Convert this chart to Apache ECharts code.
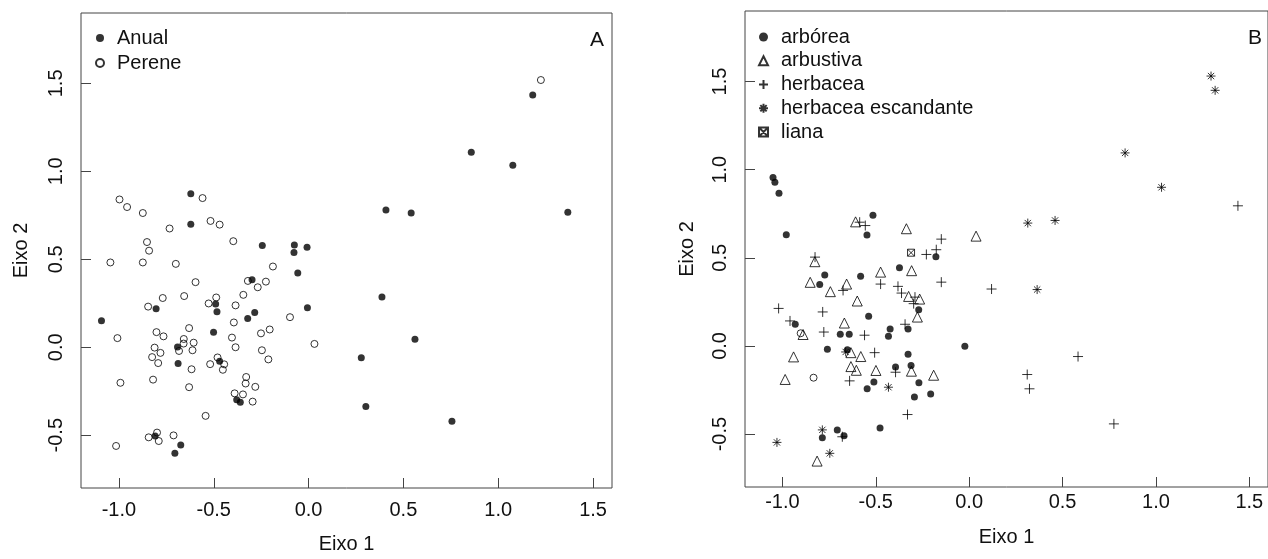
<!DOCTYPE html>
<html>
<head>
<meta charset="utf-8">
<script src="https://cdn.jsdelivr.net/npm/echarts@6/dist/echarts.min.js"></script>
<style>
  html, body { margin: 0; padding: 0; background: #fff; }
  #chart-container { width: 1268px; height: 559px; }
</style>
</head>
<body>
<div id="chart-container"></div>
<script>
// tick values shared by both panels
var tickValues = [-1.0, -0.5, 0.0, 0.5, 1.0, 1.5];

// panel A: life cycle
var anual = [
  [-0.621, 0.872], [-0.621, 0.699], [-0.244, 0.579], [-0.075, 0.581], [-0.008, 0.568],
  [-0.077, 0.538], [-0.057, 0.422], [-0.298, 0.384], [-0.804, 0.219], [-0.490, 0.246],
  [-0.483, 0.202], [-0.284, 0.197], [-0.321, 0.163], [-0.006, 0.225], [-1.092, 0.150],
  [-0.501, 0.086], [-0.691, 0.002], [-0.688, -0.092], [-0.469, -0.080], [-0.379, -0.298],
  [-0.360, -0.313], [-0.809, -0.504], [-0.674, -0.555], [-0.705, -0.602], [0.278, -0.060],
  [1.182, 1.434], [0.858, 1.108], [1.077, 1.035], [0.408, 0.780], [0.541, 0.763],
  [1.367, 0.767], [0.387, 0.285], [0.561, 0.045], [0.302, -0.337], [0.756, -0.420]
];
var perene = [
  [-0.559, 0.848], [-0.997, 0.840], [-0.957, 0.797], [-0.874, 0.763], [-0.517, 0.718],
  [-0.469, 0.697], [-0.733, 0.675], [-0.852, 0.598], [-0.841, 0.549], [-0.397, 0.603],
  [-1.045, 0.482], [-0.874, 0.482], [-0.700, 0.474], [-0.188, 0.459], [-0.596, 0.370],
  [-0.320, 0.377], [-0.225, 0.373], [-0.268, 0.341], [-0.769, 0.280], [-0.656, 0.291],
  [-0.344, 0.298], [-0.846, 0.231], [-0.527, 0.249], [-0.487, 0.283], [-0.385, 0.238],
  [-0.098, 0.171], [-0.394, 0.141], [-0.630, 0.109], [-0.205, 0.101], [-0.251, 0.079],
  [-1.008, 0.052], [-0.802, 0.086], [-0.765, 0.062], [-0.658, 0.047], [-0.659, 0.021],
  [-0.606, 0.026], [-0.404, 0.055], [0.031, 0.019], [-0.812, -0.002], [-0.385, 0.000],
  [-0.781, -0.032], [-0.683, -0.021], [-0.612, -0.017], [-0.246, -0.017], [-0.825, -0.056],
  [-0.793, -0.090], [-0.480, -0.058], [-0.519, -0.096], [-0.445, -0.097], [-0.452, -0.128],
  [-0.212, -0.069], [-0.617, -0.125], [-0.992, -0.202], [-0.820, -0.184], [-0.630, -0.227],
  [-0.329, -0.169], [-0.332, -0.206], [-0.281, -0.225], [-0.390, -0.262], [-0.346, -0.268],
  [-0.295, -0.309], [-0.543, -0.390], [-0.799, -0.485], [-0.843, -0.512], [-0.790, -0.533],
  [-0.712, -0.501], [-1.015, -0.561], [1.225, 1.519]
];

// panel B: growth form
var arborea = [
  [-1.050, 0.955], [-1.040, 0.929], [-1.018, 0.866], [-0.979, 0.631], [-0.515, 0.742],
  [-0.547, 0.629], [-0.178, 0.506], [-0.373, 0.444], [-0.581, 0.396], [-0.773, 0.402],
  [-0.800, 0.348], [-0.270, 0.206], [-0.538, 0.168], [-0.931, 0.123], [-0.423, 0.096],
  [-0.327, 0.096], [-0.690, 0.066], [-0.642, 0.066], [-0.432, 0.055], [-0.023, -0.002],
  [-0.759, -0.019], [-0.652, -0.021], [-0.327, -0.047], [-0.394, -0.119], [-0.311, -0.111],
  [-0.510, -0.204], [-0.546, -0.243], [-0.269, -0.209], [-0.293, -0.289], [-0.206, -0.272],
  [-0.477, -0.466], [-0.786, -0.521], [-0.706, -0.477], [-0.670, -0.510]
];
var arbustiva = [
  [-0.608, 0.704], [-0.336, 0.665], [0.037, 0.623], [-0.826, 0.478], [-0.308, 0.427],
  [-0.474, 0.419], [-0.851, 0.361], [-0.656, 0.351], [-0.743, 0.308], [-0.324, 0.281],
  [-0.265, 0.266], [-0.277, 0.164], [-0.599, 0.255], [-0.668, 0.130], [-0.889, 0.065],
  [-0.633, -0.038], [-0.580, -0.060], [-0.940, -0.062], [-0.633, -0.117], [-0.604, -0.138],
  [-0.499, -0.139], [-0.309, -0.143], [-0.190, -0.166], [-0.985, -0.190], [-0.814, -0.653]
];
var herbacea = [
  [-0.586, 0.702], [-0.556, 0.683], [-0.149, 0.606], [-0.229, 0.519], [-0.176, 0.546],
  [-0.825, 0.504], [-0.474, 0.351], [-0.381, 0.338], [-0.149, 0.362], [0.120, 0.323],
  [-0.675, 0.315], [-0.362, 0.300], [-0.290, 0.277], [-0.297, 0.240], [-1.020, 0.213],
  [-0.784, 0.193], [-0.959, 0.142], [-0.343, 0.123], [-0.778, 0.079], [-0.560, 0.061],
  [-0.506, -0.038], [-0.394, -0.149], [-0.640, -0.198], [-0.330, -0.389], [-0.679, -0.515],
  [1.439, 0.795], [0.583, -0.060], [0.311, -0.162], [0.323, -0.243], [0.775, -0.442]
];
var escandante = [
  [-0.661, -0.034], [-0.432, -0.234], [-0.786, -0.476], [-1.029, -0.547], [-0.746, -0.609],
  [1.295, 1.531], [1.317, 1.450], [0.835, 1.095], [1.030, 0.900], [0.314, 0.697],
  [0.460, 0.712], [0.364, 0.320]
];
var liana = [[-0.311, 0.529]];
var semClasse = [[-0.902, 0.072], [-0.833, -0.180]];

var FONT = 'Liberation Sans, Arial, sans-serif';
var plusPath = 'path://M5,0L5,10M0,5L10,5';
var starPath = 'path://M5,0L5,10M0,5L10,5M1.5,1.5L8.5,8.5M8.5,1.5L1.5,8.5';
var boxXPath = 'path://M0,0L10,0L10,10L0,10ZM0,0L10,10M10,0L0,10';

var dom = document.getElementById('chart-container');
var myChart = echarts.init(dom, null, { renderer: 'canvas' });

function xAxisFor(idx, labelMargin, nameGap) {
  return {
    type: 'value', gridIndex: idx, min: -1.2, max: 1.6,
    name: 'Eixo 1', nameLocation: 'middle', nameGap: nameGap,
    nameTextStyle: { fontFamily: FONT, fontSize: 20, color: '#111' },
    axisLine: { show: false, onZero: false },
    splitLine: { show: false },
    axisTick: { show: true, inside: true, length: 10, customValues: tickValues,
      lineStyle: { color: '#444' } },
    axisLabel: { customValues: tickValues, margin: labelMargin,
      fontFamily: FONT, fontSize: 20, color: '#111',
      formatter: function (v) { return v.toFixed(1); } }
  };
}
function yAxisFor(idx, nameGap) {
  return {
    type: 'value', gridIndex: idx, min: -0.8, max: 1.9,
    name: 'Eixo 2', nameLocation: 'middle', nameGap: nameGap,
    nameTextStyle: { fontFamily: FONT, fontSize: 20, color: '#111' },
    axisLine: { show: false, onZero: false },
    splitLine: { show: false },
    axisTick: { show: true, inside: true, length: 10, customValues: tickValues,
      lineStyle: { color: '#444' } },
    axisLabel: { customValues: tickValues, margin: 15, rotate: 90,
      fontFamily: FONT, fontSize: 20, color: '#111',
      formatter: function (v) { return v.toFixed(1); } }
  };
}
function openStyle() {
  return { color: 'rgba(0,0,0,0)', borderColor: '#000', borderWidth: 1 };
}

var option = {
  animation: false,
  grid: [
    { left: 81, top: 13, width: 531, height: 480, show: true,
      borderColor: '#444', borderWidth: 1, backgroundColor: 'transparent' },
    { left: 745, top: 11, width: 525, height: 476, show: true,
      borderColor: '#444', borderWidth: 1, backgroundColor: 'transparent' }
  ],
  xAxis: [xAxisFor(0, 12, 46), xAxisFor(1, 5, 40)],
  yAxis: [yAxisFor(0, 50), yAxisFor(1, 48)],
  legend: [
    { data: ['Anual', 'Perene'], orient: 'vertical', left: 90, top: 23,
      itemWidth: 8, itemHeight: 8, itemGap: 5, selectedMode: false,
      textStyle: { fontFamily: FONT, fontSize: 20, lineHeight: 20, color: '#111', padding: [0, 0, 0, 8] } },
    { data: ['arbórea', 'arbustiva', 'herbacea', 'herbacea escandante', 'liana'],
      orient: 'vertical', left: 753, top: 22, itemWidth: 9, itemHeight: 9, itemGap: 3.75,
      selectedMode: false,
      textStyle: { fontFamily: FONT, fontSize: 20, lineHeight: 20, color: '#111', padding: [0, 0, 0, 8] } }
  ],
  graphic: [
    { type: 'text', left: 590, top: 30, style: { text: 'A', font: '21px ' + FONT, fill: '#111' } },
    { type: 'text', left: 1248, top: 28, style: { text: 'B', font: '21px ' + FONT, fill: '#111' } }
  ],
  series: [
    { name: 'Anual', type: 'scatter', xAxisIndex: 0, yAxisIndex: 0, data: anual,
      symbol: 'circle', symbolSize: 7, itemStyle: { color: '#000' } },
    { name: 'Perene', type: 'scatter', xAxisIndex: 0, yAxisIndex: 0, data: perene,
      symbol: 'circle', symbolSize: 7, itemStyle: openStyle() },

    { name: 'arbórea', type: 'scatter', xAxisIndex: 1, yAxisIndex: 1, data: arborea,
      symbol: 'circle', symbolSize: 7, itemStyle: { color: '#000' } },
    { name: 'arbustiva', type: 'scatter', xAxisIndex: 1, yAxisIndex: 1, data: arbustiva,
      symbol: 'triangle', symbolSize: 10, itemStyle: openStyle() },
    { name: 'herbacea', type: 'scatter', xAxisIndex: 1, yAxisIndex: 1, data: herbacea,
      symbol: plusPath, symbolSize: 10, itemStyle: openStyle() },
    { name: 'herbacea escandante', type: 'scatter', xAxisIndex: 1, yAxisIndex: 1, data: escandante,
      symbol: starPath, symbolSize: 9, itemStyle: openStyle() },
    { name: 'liana', type: 'scatter', xAxisIndex: 1, yAxisIndex: 1, data: liana,
      symbol: boxXPath, symbolSize: 7, itemStyle: openStyle() },
    { name: 'outra', type: 'scatter', xAxisIndex: 1, yAxisIndex: 1, data: semClasse,
      symbol: 'circle', symbolSize: 7, itemStyle: openStyle() }
  ]
};

myChart.setOption(option);
window.addEventListener('resize', myChart.resize);
</script>
</body>
</html>
